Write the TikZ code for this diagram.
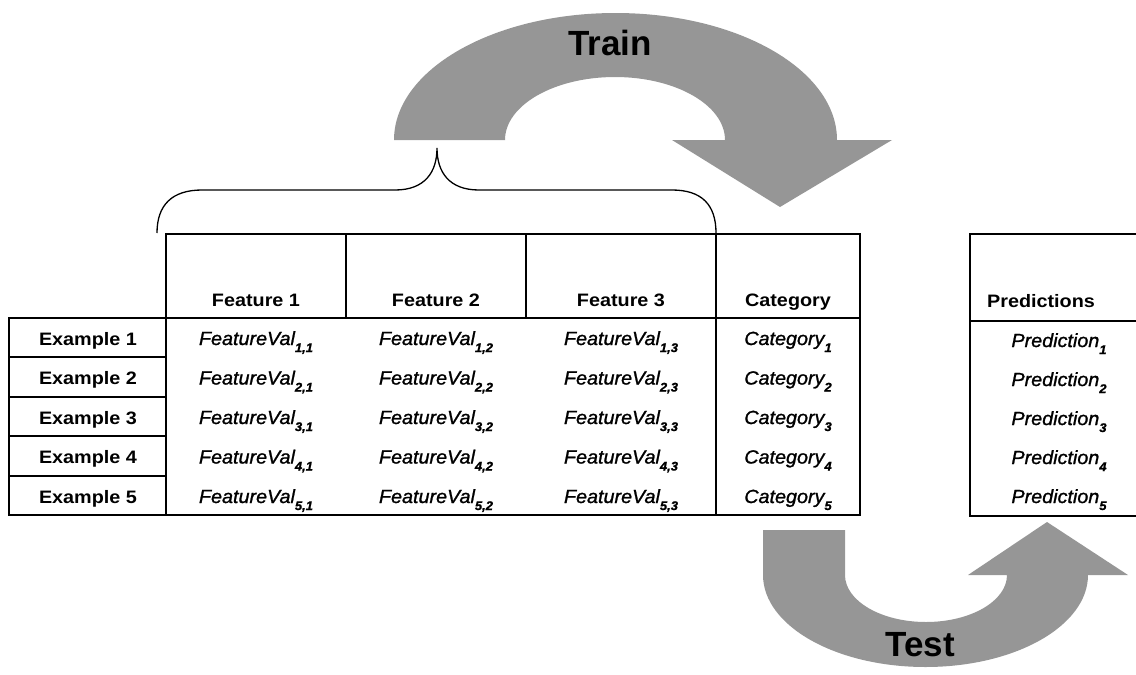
\documentclass[tikz,border=0pt]{standalone}
\usepackage{fontspec}
\setmainfont{Liberation Sans}
\newfontfamily\tabfont{Liberation Sans}[FakeStretch=1.1]
\newfontfamily\valfont{Liberation Sans}[FakeStretch=1.04, FakeBold=1.2]
\newcommand{\idx}[1]{\raisebox{-7pt}{\fontsize{12.5}{12.5}\selectfont\bfseries\itshape #1}}
\definecolor{arrowgray}{RGB}{150,150,150}
\tikzset{
  tab/.style={draw=black, line width=1.8pt},
  hdr/.style={font=\tabfont\fontsize{18}{18}\selectfont\bfseries, anchor=base, inner sep=0pt},
  val/.style={font=\valfont\fontsize{19}{19}\selectfont\itshape, anchor=base, inner sep=0pt},
  big/.style={font=\fontsize{35}{35}\selectfont\bfseries, inner sep=0pt},
  bigarrow/.style={fill=arrowgray, draw=none},
}
\begin{document}
\begin{tikzpicture}[x=1pt, y=-1pt]
\useasboundingbox (0,0) rectangle (1136,675);
\clip (0,0) rectangle (1136,675);

% curved "Train" arrow
\path[bigarrow] (394,140) arc[start angle=180, end angle=360, x radius=221.5, y radius=127]
  -- (892,140) -- (780,207) -- (672,140) -- (725,140)
  arc[start angle=360, end angle=180, x radius=110, y radius=63] -- cycle;
\node[big] (train) at (610,43) {Train};

% curved "Test" arrow
\path[bigarrow] (763,530) -- (763,575)
  arc[start angle=180, end angle=0, x radius=162.5, y radius=92]
  -- (1128,575) -- (1047,522) -- (968,575) -- (1007,575)
  arc[start angle=0, end angle=180, x radius=81, y radius=47]
  -- (845,530) -- cycle;
\node[big] (test) at (920,645) {Test};

% brace over the feature columns
\draw[line width=1.3pt] (157,233) .. controls (157,205) and (172,190) .. (202,190)
  -- (395,190) .. controls (425,190) and (437,172) .. (437,148)
  .. controls (437,172) and (449,190) .. (479,190)
  -- (672,190) .. controls (702,190) and (716,205) .. (716,233);

% table frame
\draw[tab] (166,234) rectangle (860,318);
\draw[tab] (166,318) rectangle (860,515);
\draw[tab] (346,234) -- (346,318);
\draw[tab] (526,234) -- (526,318);
\draw[tab] (716,234) -- (716,515);
\foreach \ya/\yb in {318/357, 357/397, 397/436, 436/476, 476/515}
  \draw[tab] (9,\ya) rectangle (166,\yb);

% predictions frame
\draw[tab] (970,234) rectangle (1150,516);
\draw[tab] (970,321) -- (1150,321);

% column headers
\node[hdr] (h1) at (256,306) {Feature 1};
\node[hdr] (h2) at (436,306) {Feature 2};
\node[hdr] (h3) at (621,306) {Feature 3};
\node[hdr] (hc) at (788,306) {Category};
\node[hdr] (hp) at (1041,307) {Predictions};

% rows
\foreach \r/\y in {1/345, 2/384.5, 3/424, 4/463.5, 5/503} {
  \node[hdr] (ex\r) at (88,\y) {Example \r};
  \node[val] (f\r a) at (256,\y) {FeatureVal\idx{\r,1}};
  \node[val] (f\r b) at (436,\y) {FeatureVal\idx{\r,2}};
  \node[val] (f\r c) at (621,\y) {FeatureVal\idx{\r,3}};
  \node[val] (c\r) at (788,\y) {Category\idx{\r}};
}
\foreach \r/\y in {1/347, 2/386, 3/425, 4/464, 5/503}
  \node[val] (p\r) at (1059,\y) {Prediction\idx{\r}};
\end{tikzpicture}
\end{document}
